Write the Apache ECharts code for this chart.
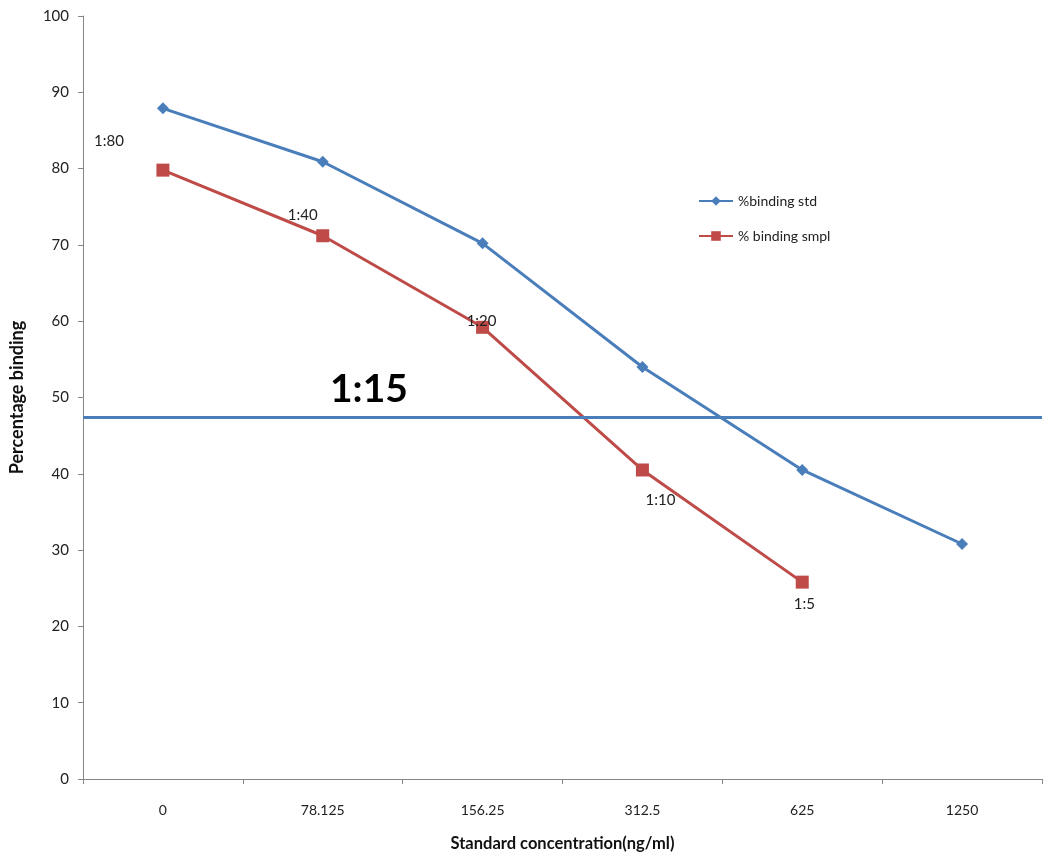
<!DOCTYPE html>
<html><head><meta charset="utf-8">
<script src="https://cdn.jsdelivr.net/npm/echarts@6/dist/echarts.min.js"></script>
<style>html,body{margin:0;padding:0;background:#fff}#c{width:1050px;height:857px}</style>
</head><body><div id="c"></div>
<script>
const categories = ['0', '78.125', '156.25', '312.5', '625', '1250'];
const bindingStd = [87.9, 80.9, 70.2, 54.0, 40.5, 30.8];
const bindingSmpl = [79.8, 71.2, 59.2, 40.5, 25.8];
const dilutionLabels = ['1:80', '1:40', '1:20', '1:10', '1:5'];
const refLineValue = 47.4;
const refLineLabel = '1:15';

const labelOffsets = [[-54, -29], [-20, -21], [-1, -6], [18, 30], [2, 22]];
const font = 'Lato';
const chart = echarts.init(document.getElementById('c'));
chart.setOption({
  animation: false,
  grid: { left: 81, right: 8, top: 16, bottom: 78 },
  legend: {
    orient: 'vertical', left: 693, top: 189, itemGap: 21, itemWidth: 34, itemHeight: 12,
    textStyle: { fontFamily: font, fontSize: 14, color: '#222' },
    data: ['%binding std', '% binding smpl']
  },
  xAxis: {
    type: 'category', data: categories, boundaryGap: true,
    name: 'Standard concentration(ng/ml)', nameLocation: 'middle', nameGap: 56,
    nameTextStyle: { fontFamily: font, fontSize: 16.5, fontWeight: 'bold', color: '#111' },
    axisLine: { lineStyle: { color: '#868686', width: 1 } },
    axisTick: { show: true, length: 5, lineStyle: { color: '#868686' } },
    axisLabel: { fontFamily: font, fontSize: 14, color: '#222', margin: 24 }
  },
  yAxis: {
    type: 'value', min: 0, max: 100, interval: 10,
    name: 'Percentage binding', nameLocation: 'middle', nameGap: 57, nameRotate: 90,
    nameTextStyle: { fontFamily: font, fontSize: 18, fontWeight: 'bold', color: '#111' },
    axisLine: { show: true, lineStyle: { color: '#868686', width: 1 } },
    axisTick: { show: true, length: 5, lineStyle: { color: '#868686' } },
    axisLabel: { fontFamily: font, fontSize: 15, color: '#222', margin: 14 },
    splitLine: { show: false }
  },
  series: [
    {
      name: '%binding std', type: 'line', data: bindingStd,
      symbol: 'diamond', symbolSize: 12,
      lineStyle: { color: '#4A7EBB', width: 3 },
      itemStyle: { color: '#4A7EBB' },
      markLine: {
        silent: true, symbol: 'none',
        lineStyle: { color: '#4A7EBB', width: 3, type: 'solid' },
        label: {
          formatter: refLineLabel, position: 'insideStartTop', distance: [247, 8],
          fontFamily: font, fontSize: 39, fontWeight: 'bold', color: '#000'
        },
        data: [{ yAxis: refLineValue }]
      }
    },
    {
      name: '% binding smpl', type: 'line',
      data: bindingSmpl.map((v, i) => ({
        value: v,
        label: { show: true, position: 'inside', offset: labelOffsets[i] }
      })),
      symbol: 'rect', symbolSize: 13,
      lineStyle: { color: '#BE4B48', width: 3 },
      itemStyle: { color: '#BE4B48' },
      label: {
        show: true, formatter: p => dilutionLabels[p.dataIndex],
        fontFamily: font, fontSize: 15, color: '#222'
      }
    }
  ]
});
</script></body></html>
